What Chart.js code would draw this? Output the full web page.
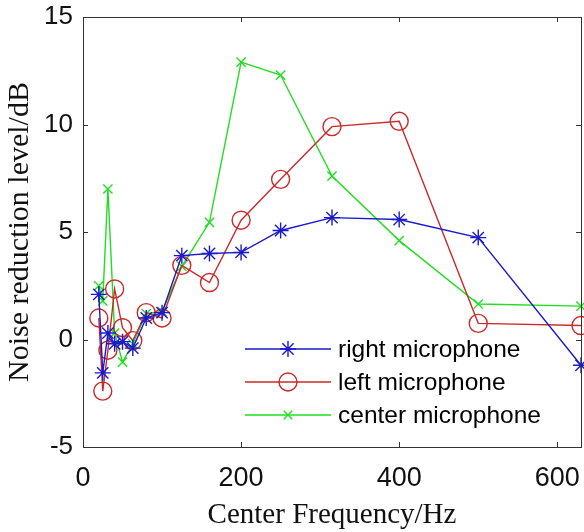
<!DOCTYPE html>
<html>
<head>
<meta charset="utf-8">
<script src="https://cdn.jsdelivr.net/npm/chart.js@4.4.1/dist/chart.umd.min.js"></script>
<style>
  html, body { margin: 0; padding: 0; background: #fff; }
  #wrap { width: 584px; height: 532px; }
</style>
</head>
<body>
<div id="wrap"><canvas id="noise-chart"></canvas></div>
<script>
// 1/3 octave centre frequencies (Hz)
var freqs = [20, 25, 31.5, 40, 50, 63, 80, 100, 125, 160, 200, 250, 315, 400, 500, 630];
var rightMic  = [2.1, -1.55, 0.3, -0.2, -0.1, -0.4, 1.0, 1.25, 3.9, 4.0, 4.05, 5.07, 5.67, 5.58, 4.74, -1.2];
var leftMic   = [1.0, -2.4, -0.5, 2.35, 0.55, -0.05, 1.25, 1.0, 3.45, 2.65, 5.55, 7.45, 9.9, 10.15, 0.75, 0.65];
var centerMic = [2.5, 1.8, 7.0, 0.3, -1.05, -0.2, 1.2, 1.3, 3.4, 5.45, 12.9, 12.3, 7.6, 4.6, 1.65, 1.55];
var xTicks = [0, 200, 400, 600];
var yTicks = [-5, 0, 5, 10, 15];
var seriesNames = ['right microphone', 'left microphone', 'center microphone'];

function pts(vals){
    return freqs.map(function(f, i){ return {x: f, y: vals[i]}; });
}

var BLUE = '#1a1acc', RED = '#cc2a2a', GREEN = '#22dd22';

// matlab style box with inward ticks + legend inside the axes
var boxPlugin = {
    id: 'boxPlugin',
    afterDraw: function(chart){
        var ctx = chart.ctx, a = chart.chartArea;
        var xs = chart.scales.x, ys = chart.scales.y;
        ctx.save();
        ctx.strokeStyle = '#333';
        ctx.lineWidth = 1;
        ctx.strokeRect(a.left + 0.5, a.top + 0.5, a.right - a.left, a.bottom - a.top);
        xTicks.forEach(function(t){
            var px = Math.round(xs.getPixelForValue(t)) + 0.5;
            ctx.beginPath();
            ctx.moveTo(px, a.bottom); ctx.lineTo(px, a.bottom - 5);
            ctx.moveTo(px, a.top); ctx.lineTo(px, a.top + 5);
            ctx.stroke();
        });
        yTicks.forEach(function(t){
            var py = Math.round(ys.getPixelForValue(t)) + 0.5;
            ctx.beginPath();
            ctx.moveTo(a.left, py); ctx.lineTo(a.left + 5, py);
            ctx.moveTo(a.right, py); ctx.lineTo(a.right - 5, py);
            ctx.stroke();
        });

        // legend
        var styles = [
            {c: BLUE, p: 'star', r: 8},
            {c: RED, p: 'circle', r: 9},
            {c: GREEN, p: 'crossRot', r: 6}
        ];
        ctx.font = '24.5px "Liberation Sans", Arial, sans-serif';
        ctx.textBaseline = 'middle';
        for (var i = 0; i < 3; i++) {
            var y = 349 + i * 33;
            ctx.strokeStyle = styles[i].c;
            ctx.fillStyle = 'rgba(0,0,0,0)';
            ctx.lineWidth = 1.4;
            ctx.beginPath();
            ctx.moveTo(245, y); ctx.lineTo(331, y);
            ctx.stroke();
            Chart.helpers.drawPoint(ctx, {pointStyle: styles[i].p, radius: styles[i].r, borderWidth: 1.4}, 288, y);
            ctx.fillStyle = '#000';
            ctx.fillText(seriesNames[i], 338, y + 1);
        }
        ctx.restore();
    }
};

var ctx = document.getElementById('noise-chart').getContext('2d');
window.NoiseChart = new Chart(ctx, {
    type: 'line',
    data: {
        datasets: [{
            label: seriesNames[0],
            data: pts(rightMic),
            borderColor: BLUE,
            backgroundColor: 'transparent',
            borderWidth: 1.4,
            pointStyle: 'star',
            pointRadius: 8,
            pointBorderWidth: 1.4,
            clip: false
        }, {
            label: seriesNames[1],
            data: pts(leftMic),
            borderColor: RED,
            backgroundColor: 'transparent',
            borderWidth: 1.4,
            pointStyle: 'circle',
            pointRadius: 9,
            pointBorderWidth: 1.4,
            clip: false
        }, {
            label: seriesNames[2],
            data: pts(centerMic),
            borderColor: GREEN,
            backgroundColor: 'transparent',
            borderWidth: 1.4,
            pointStyle: 'crossRot',
            pointRadius: 6.5,
            pointBorderWidth: 1.4,
            clip: false
        }]
    },
    options: {
        animation: false,
        responsive: true,
        maintainAspectRatio: false,
        layout: { autoPadding: false, padding: { top: 17, right: 3, left: 5, bottom: 0 } },
        plugins: {
            legend: { display: false },
            tooltip: { enabled: false }
        },
        elements: { line: { tension: 0 } },
        scales: {
            x: {
                type: 'linear',
                min: 0,
                max: 630,
                grid: { display: false, drawTicks: false },
                border: { display: false },
                afterBuildTicks: function(s){ s.ticks = xTicks.map(function(v){ return {value: v}; }); },
                afterFit: function(s){ s.height = 85; s.paddingLeft = 0; s.paddingRight = 0; },
                ticks: {
                    color: '#111',
                    padding: 18,
                    maxRotation: 0,
                    font: { family: '"Liberation Sans", Arial, sans-serif', size: 27, lineHeight: 1 }
                },
                title: {
                    display: true,
                    text: 'Center Frequency/Hz',
                    color: '#111',
                    padding: { top: 0, bottom: 2 },
                    font: { family: '"Liberation Serif", "Times New Roman", serif', size: 29, lineHeight: 1 }
                }
            },
            y: {
                min: -5,
                max: 15,
                grid: { display: false, drawTicks: false },
                border: { display: false },
                afterBuildTicks: function(s){ s.ticks = yTicks.map(function(v){ return {value: v}; }); },
                afterFit: function(s){ s.width = 78; s.paddingTop = 0; s.paddingBottom = 0; },
                ticks: {
                    color: '#111',
                    padding: 10,
                    font: { family: '"Liberation Sans", Arial, sans-serif', size: 26 }
                },
                title: {
                    display: true,
                    text: 'Noise reduction level/dB',
                    color: '#111',
                    padding: { top: 0, bottom: 0 },
                    font: { family: '"Liberation Serif", "Times New Roman", serif', size: 30, lineHeight: 1 }
                }
            }
        }
    },
    plugins: [boxPlugin]
});
</script>
</body>
</html>
